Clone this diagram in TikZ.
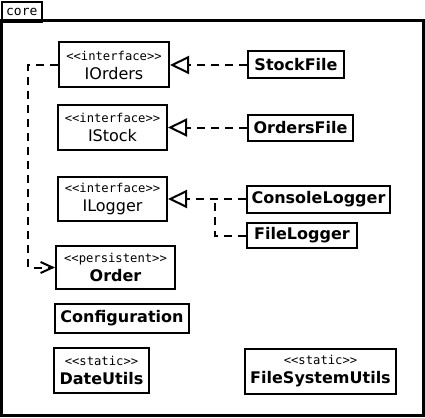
\documentclass[tikz,border=0pt]{standalone}
\usepackage{fontspec}
\setmainfont{DejaVu Sans}
\setmonofont{DejaVu Sans Mono}
\usetikzlibrary{arrows.meta}
\newcommand{\stereo}[1]{{\ttfamily\fontsize{12.2}{12}\selectfont <{}<#1>{}>}}

\begin{document}
\begin{tikzpicture}[x=1pt,y=-1pt]
\tikzstyle{cls}=[draw,line width=2pt,inner sep=0pt,align=center,font=\fontsize{16}{19}\selectfont]
\tikzstyle{real}=[line width=2pt,dash pattern=on 8pt off 6pt,-{Triangle[open,length=19pt,width=18pt,line width=2pt]}]
\tikzstyle{dep}=[line width=2pt,dash pattern=on 8pt off 6pt,-{Straight Barb[length=12pt,width=11pt,line width=2pt]}]
\useasboundingbox (0,0) rectangle (425,417);
% package frame
\draw[line width=2.8pt] (1.4,20.6) rectangle (423.2,415.6);
\node[draw,line width=1.8pt,minimum width=40pt,minimum height=20pt,inner sep=1pt,anchor=north west,
  font=\ttfamily\fontsize{13}{13}\selectfont] (core) at (0.9,0.9) {core};
\foreach \name/\point/\w/\h/\txt in {
	IOrders/{114,65}/110/45/{\stereo{interface}\\IOrders},
	IStock/{112.5,127.5}/109/45/{\stereo{interface}\\IStock},
	ILogger/{112.5,199}/109/44/{\stereo{interface}\\ILogger},
	Order/{115.5,267.5}/119/43/{\stereo{persistent}\\\textbf{Order}},
	StockFile/{296,65}/96/27/{\textbf{StockFile}},
	OrdersFile/{300.5,127.5}/105/26/{\textbf{OrdersFile}},
	ConsoleLogger/{318.5,199}/143/27/{\textbf{ConsoleLogger}},
	FileLogger/{302,235.5}/110/25/{\textbf{FileLogger}},
	Configuration/{122,318.5}/134/29/{\textbf{Configuration}},
	DateUtils/{101.5,370.5}/95/45/{\stereo{static}\\\textbf{DateUtils}},
	FileSystemUtils/{320.5,371.5}/151/45/{\stereo{static}\\\textbf{FileSystemUtils}}}
	\node[cls,minimum width=\w pt,minimum height=\h pt] (\name) at (\point) {\txt};
\coordinate (jn) at (215,199);
\coordinate (bend) at (28,65);
\draw[real] (StockFile) -- (IOrders);
\draw[real] (OrdersFile) -- (IStock);
\draw[real] (ConsoleLogger) -- (ILogger);
\draw[line width=2pt,dash pattern=on 8pt off 6pt] (FileLogger) -| (jn);
\draw[dep] (IOrders) -- (bend) |- (Order);
\end{tikzpicture}
\end{document}
